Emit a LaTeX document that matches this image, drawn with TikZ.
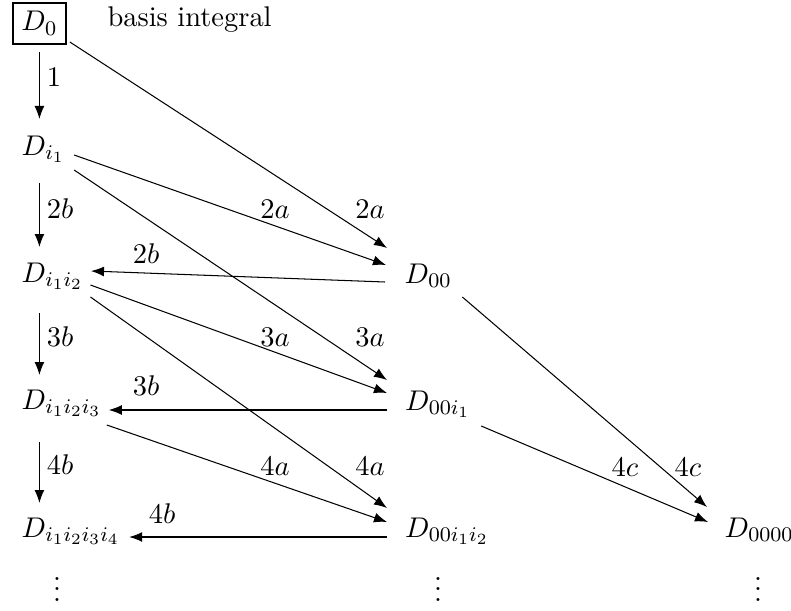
\documentclass[tikz,border=0pt]{standalone}
\usetikzlibrary{arrows.meta,calc}
\begin{document}
\begin{tikzpicture}[x=0.3846pt,y=-0.3846pt,
  every node/.style={font=\fontsize{10.95}{13.6}\selectfont},
  arr/.style={-{Latex[length=5pt,width=3.8pt]}, line width=0.4pt},
  dn/.style={anchor=base west},
  lab/.style={inner sep=0pt}]
\useasboundingbox (0,0) rectangle (791,611);
% nodes
\node[dn,draw,line width=0.6pt] (D0) at (12,31) {$D_0$};
\node[anchor=base west,inner sep=0pt] (basis) at (107,27) {basis integral};
\node[dn] (Di1) at (12.5,155) {$D_{i_1}$};
\node[dn] (Di2) at (12.5,282) {$D_{i_1i_2}$};
\node[dn] (Di3) at (12.5,409) {$D_{i_1i_2i_3}$};
\node[dn] (Di4) at (12.5,537) {$D_{i_1i_2i_3i_4}$};
\node[dn] (D00) at (395.5,283) {$D_{00}$};
\node[dn] (D00i1) at (396,410) {$D_{00i_1}$};
\node[dn] (D00i2) at (396,537) {$D_{00i_1i_2}$};
\node[dn] (D0000) at (715.5,537) {$D_{0000}$};
\node[anchor=base] (v1) at (57,601) {$\vdots$};
\node[anchor=base] (v2) at (438,601) {$\vdots$};
\node[anchor=base] (v3) at (758,601) {$\vdots$};
% vertical arrows
\draw[arr] ($(D0.base)+(0,21)$) -- ($(Di1.base west -| D0.base)+(0,-36)$);
\draw[arr] ($(Di1.base west -| D0.base)+(0,28)$) -- ($(Di2.base west -| D0.base)+(0,-35)$);
\draw[arr] ($(Di2.base west -| D0.base)+(0,31)$) -- ($(Di3.base west -| D0.base)+(0,-34)$);
\draw[arr] ($(Di3.base west -| D0.base)+(0,33)$) -- ($(Di4.base west -| D0.base)+(0,-34)$);
% diagonal and horizontal arrows
\draw[arr] ($(D0.base east)+(3,11)$) -- ($(D00.base west)+(-8.5,-35)$);
\draw[arr] (Di1.base east) -- ($(D00.base west)+(-9.5,-18)$);
\draw[arr] ($(Di1.base east)+(0,15)$) -- ($(D00i1.base west)+(-9,-30)$);
\draw[arr] ($(D00.base west)+(-10.5,-1)$) -- ($(Di2.base east)+(-1.5,-11)$);
\draw[arr] ($(Di2.base east)+(-2,3)$) -- ($(D00i1.base west)+(-9,-17)$);
\draw[arr] ($(Di2.base east)+(-2,15)$) -- ($(D00i2.base west)+(-9,-29)$);
\draw[arr] ($(D00i1.base west)+(-9,0)$) -- ($(Di3.base east)+(-2,1)$);
\draw[arr] ($(Di3.base east)+(-4,16)$) -- ($(D00i2.base west)+(-9,-15)$);
\draw[arr] ($(D00i2.base west)+(-9,0)$) -- (Di4.base east);
\draw[arr] ($(D00.base east)+(1.5,14)$) -- ($(D0000.base west)+(-8.5,-30)$);
\draw[arr] ($(D00i1.base east)+(1.5,16)$) -- ($(D0000.base west)+(-7.5,-15)$);
% labels
\node[lab] (l1) at (54,77) {$1$};
\node[lab] (l2bv) at (60,209) {$2b$};
\node[lab] (l3bv) at (60,337) {$3b$};
\node[lab] (l4bv) at (60,465) {$4b$};
\node[lab] (l2aL) at (275,209) {$2a$};
\node[lab] (l2aR) at (370,209) {$2a$};
\node[lab] (l2bh) at (146,254) {$2b$};
\node[lab] (l3aL) at (275,337) {$3a$};
\node[lab] (l3aR) at (370,337) {$3a$};
\node[lab] (l3bh) at (146,386) {$3b$};
\node[lab] (l4aL) at (275,466) {$4a$};
\node[lab] (l4aR) at (370,466) {$4a$};
\node[lab] (l4bh) at (162,514) {$4b$};
\node[lab] (l4cL) at (625,467) {$4c$};
\node[lab] (l4cR) at (688,467) {$4c$};
\end{tikzpicture}
\end{document}
